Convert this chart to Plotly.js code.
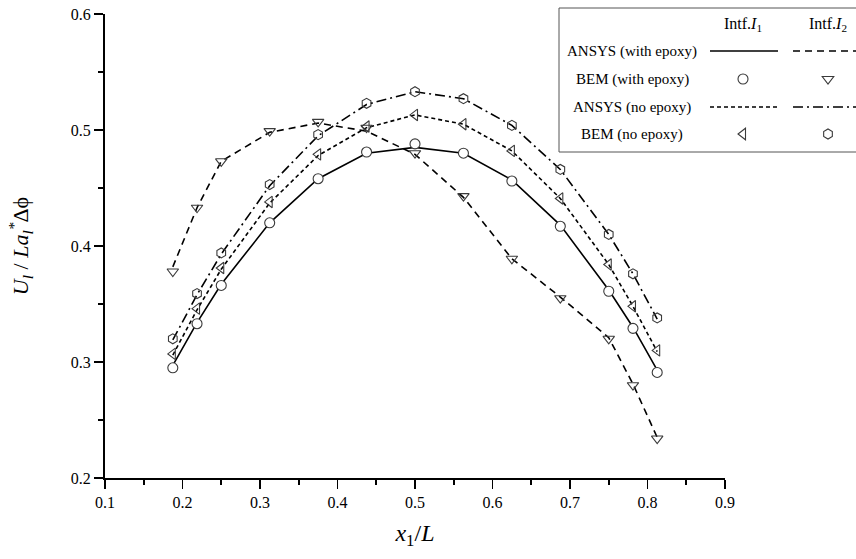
<!DOCTYPE html>
<html>
<head>
<meta charset="utf-8">
<script src="https://cdn.plot.ly/plotly-3.0.1.min.js"></script>
<style>html,body{margin:0;padding:0;background:#fff;}#chart{width:856px;height:559px;}</style>
</head>
<body>
<div id="chart"></div>
<script>
// ---- data ----
const xPos = [0.1875, 0.21875, 0.25, 0.3125, 0.375, 0.4375, 0.5, 0.5625, 0.625, 0.6875, 0.75, 0.78125, 0.8125];

const ansysEpoxyI1 = [0.297, 0.334, 0.367, 0.420, 0.458, 0.480, 0.485, 0.480, 0.457, 0.418, 0.362, 0.330, 0.293];
const bemEpoxyI1   = [0.295, 0.333, 0.366, 0.420, 0.458, 0.481, 0.488, 0.480, 0.456, 0.417, 0.361, 0.329, 0.291];

const ansysEpoxyI2 = [0.382, 0.433, 0.473, 0.498, 0.506, 0.499, 0.479, 0.442, 0.389, 0.356, 0.321, 0.281, 0.235];
const bemEpoxyI2   = [0.378, 0.433, 0.473, 0.499, 0.507, 0.502, 0.480, 0.443, 0.389, 0.355, 0.320, 0.280, 0.234];

const ansysNoEpoxyI1 = [0.306, 0.345, 0.380, 0.437, 0.478, 0.502, 0.513, 0.505, 0.482, 0.441, 0.384, 0.348, 0.309];
const bemNoEpoxyI1   = [0.307, 0.346, 0.381, 0.438, 0.479, 0.503, 0.513, 0.505, 0.482, 0.441, 0.384, 0.348, 0.310];

const ansysNoEpoxyI2 = [0.319, 0.358, 0.393, 0.452, 0.495, 0.522, 0.533, 0.527, 0.504, 0.466, 0.410, 0.376, 0.337];
const bemNoEpoxyI2   = [0.320, 0.359, 0.394, 0.453, 0.496, 0.523, 0.533, 0.527, 0.504, 0.466, 0.410, 0.376, 0.338];

const xTicks = [0.1, 0.2, 0.3, 0.4, 0.5, 0.6, 0.7, 0.8, 0.9];
const yTicks = [0.2, 0.3, 0.4, 0.5, 0.6];

const legendHeaders = ['Intf.<i>I</i><sub>1</sub>', 'Intf.<i>I</i><sub>2</sub>'];
const legendRows = ['ANSYS (with epoxy)', 'BEM (with epoxy)', 'ANSYS (no epoxy)', 'BEM (no epoxy)'];

// ---- styling ----
const SERIF = '"Liberation Serif", "Times New Roman", serif';
const MK = '#3a3a3a';
const DASH_I2 = '7px,5px';
const DOT_I1 = '4px,3px';
const DASHDOT_I2 = '10px,4px,2px,4px';

function lineTrace(y, dash) {
  return {x: xPos, y: y, mode: 'lines', type: 'scatter',
          line: {color: '#000', width: 1.6, dash: dash}, hoverinfo: 'skip'};
}
function markerTrace(y, symbol, fill, size) {
  return {x: xPos, y: y, mode: 'markers', type: 'scatter',
          marker: {symbol: symbol, size: size, color: fill, line: {color: MK, width: 1.1}},
          hoverinfo: 'skip'};
}

const traces = [
  lineTrace(ansysNoEpoxyI2, DASHDOT_I2),
  lineTrace(ansysNoEpoxyI1, DOT_I1),
  lineTrace(ansysEpoxyI2, DASH_I2),
  lineTrace(ansysEpoxyI1, 'solid'),
  markerTrace(bemNoEpoxyI2, 'hexagon', 'rgba(0,0,0,0)', 10),
  markerTrace(bemNoEpoxyI1, 'triangle-left', 'rgba(0,0,0,0)', 10),
  markerTrace(bemEpoxyI2, 'triangle-down', 'rgba(0,0,0,0)', 10),
  markerTrace(bemEpoxyI1, 'circle', '#fff', 10)
];

// ---- legend (pixel layout -> paper coordinates) ----
const L = 105, R = 725, T = 14, B = 478;
const pxX = p => (p - L) / (R - L);
const pxY = p => (B - p) / (B - T);

const col1 = 743, col2 = 828;
const rowY = [51, 79, 107, 134];
const headerY = 25;

function polyPath(cx, cy, pts) {
  return pts.map((p, i) => (i ? 'L' : 'M') + pxX(cx + p[0]).toFixed(5) + ',' + pxY(cy + p[1]).toFixed(5)).join(' ') + ' Z';
}
const r = 5, rt = r * 2 / Math.sqrt(3), r2 = r / 2, hx = r * Math.sqrt(3) / 2;
const triDown = [[-rt, -r2], [rt, -r2], [0, r]];
const triLeft = [[r2, -rt], [r2, rt], [-r, 0]];
const hexPts = [[hx, -r2], [hx, r2], [0, r], [-hx, r2], [-hx, -r2], [0, -r]];
const mkLine = {color: MK, width: 1.1};

const shapes = [
  {type: 'rect', xref: 'paper', yref: 'paper', x0: pxX(559), x1: pxX(880), y0: pxY(152), y1: pxY(8),
   line: {color: '#555', width: 1}, fillcolor: '#fff', layer: 'below'},
  {type: 'line', xref: 'paper', yref: 'paper', x0: pxX(710), x1: pxX(778), y0: pxY(rowY[0]), y1: pxY(rowY[0]),
   line: {color: '#000', width: 1.6}},
  {type: 'line', xref: 'paper', yref: 'paper', x0: pxX(793), x1: pxX(870), y0: pxY(rowY[0]), y1: pxY(rowY[0]),
   line: {color: '#000', width: 1.6, dash: DASH_I2}},
  {type: 'line', xref: 'paper', yref: 'paper', x0: pxX(710), x1: pxX(778), y0: pxY(rowY[2]), y1: pxY(rowY[2]),
   line: {color: '#000', width: 1.6, dash: DOT_I1}},
  {type: 'line', xref: 'paper', yref: 'paper', x0: pxX(793), x1: pxX(870), y0: pxY(rowY[2]), y1: pxY(rowY[2]),
   line: {color: '#000', width: 1.6, dash: DASHDOT_I2}},
  {type: 'circle', xref: 'paper', yref: 'paper', x0: pxX(col1 - r), x1: pxX(col1 + r), y0: pxY(rowY[1] + r), y1: pxY(rowY[1] - r),
   line: mkLine, fillcolor: 'rgba(0,0,0,0)'},
  {type: 'path', xref: 'paper', yref: 'paper', path: polyPath(col2, rowY[1], triDown), line: mkLine},
  {type: 'path', xref: 'paper', yref: 'paper', path: polyPath(col1, rowY[3], triLeft), line: mkLine},
  {type: 'path', xref: 'paper', yref: 'paper', path: polyPath(col2, rowY[3], hexPts), line: mkLine}
];

const annotations = [];
legendRows.forEach((t, i) => {
  annotations.push({text: t, xref: 'paper', yref: 'paper', x: pxX(632), y: pxY(rowY[i]),
    xanchor: 'center', yanchor: 'middle', showarrow: false, font: {family: SERIF, size: 15, color: '#000'}});
});
[col1, col2].forEach((c, i) => {
  annotations.push({text: legendHeaders[i], xref: 'paper', yref: 'paper', x: pxX(c), y: pxY(headerY),
    xanchor: 'center', yanchor: 'middle', showarrow: false, font: {family: SERIF, size: 16, color: '#000'}});
});

const layout = {
  width: 856, height: 559,
  margin: {l: L, r: 856 - R, t: T, b: 559 - B},
  paper_bgcolor: '#fff', plot_bgcolor: 'rgba(0,0,0,0)',
  showlegend: false,
  font: {family: SERIF, color: '#000'},
  xaxis: {
    range: [0.1, 0.9], tickvals: xTicks, ticktext: xTicks.map(v => v.toFixed(1)),
    ticks: 'outside', ticklen: 9, tickwidth: 1.6, tickcolor: '#000',
    showline: true, linewidth: 2, linecolor: '#000', showgrid: false, zeroline: false,
    tickfont: {family: SERIF, size: 16, color: '#000'},
    minor: {ticks: 'outside', ticklen: 5, tickwidth: 1.6, tickcolor: '#000', dtick: 0.05, tick0: 0.1, showgrid: false},
    title: {text: '<i>x</i><sub>1</sub>/<i>L</i>', font: {family: SERIF, size: 24, color: '#000'}, standoff: 14}
  },
  yaxis: {
    range: [0.2, 0.6], tickvals: yTicks, ticktext: yTicks.map(v => v.toFixed(1)),
    ticks: 'outside', ticklen: 9, tickwidth: 1.6, tickcolor: '#000',
    showline: true, linewidth: 2, linecolor: '#000', showgrid: false, zeroline: false,
    tickfont: {family: SERIF, size: 16, color: '#000'},
    minor: {ticks: 'outside', ticklen: 5, tickwidth: 1.6, tickcolor: '#000', dtick: 0.05, tick0: 0.2, showgrid: false},
    title: {text: '<i>U<sub>l</sub></i> / <i>La<sub>l</sub><sup>*</sup></i>Δϕ', font: {family: SERIF, size: 22, color: '#000'}, standoff: 36}
  },
  shapes: shapes,
  annotations: annotations
};

Plotly.newPlot('chart', traces, layout, {displayModeBar: false, staticPlot: true});
</script>
</body>
</html>
